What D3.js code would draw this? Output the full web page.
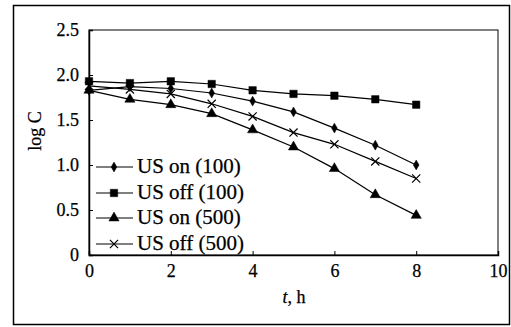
<!DOCTYPE html>
<html><head><meta charset="utf-8">
<script src="https://cdn.jsdelivr.net/npm/d3@7"></script>
<style>body{margin:0;background:#fff}svg{display:block}svg text{font-family:"Liberation Serif","DejaVu Serif",serif !important;fill:#000;stroke:#000;stroke-width:0.25px}</style>
</head><body><svg id="c" width="511" height="327"></svg>
<script>
const hours = [0,1,2,3,4,5,6,7,8];
const usOn100  = [1.83,1.87,1.85,1.80,1.71,1.59,1.41,1.22,1.00];
const usOff100 = [1.93,1.91,1.93,1.90,1.83,1.79,1.77,1.73,1.67];
const usOn500  = [1.83,1.73,1.67,1.57,1.39,1.20,0.96,0.67,0.44];
const usOff500 = [1.88,1.84,1.79,1.68,1.54,1.36,1.23,1.04,0.85];
const seriesNames = ["US on (100)","US off (100)","US on (500)","US off (500)"];
const xTicks = [0,2,4,6,8,10];
const yTicks = [0,0.5,1.0,1.5,2.0,2.5];
const yTickLabels = ["0","0.5","1.0","1.5","2.0","2.5"];

const series = [
  {name: seriesNames[0], values: usOn100, sym: d3.symbolDiamond, size: 28},
  {name: seriesNames[1], values: usOff100, sym: d3.symbolSquare, size: 55},
  {name: seriesNames[2], values: usOn500, sym: d3.symbolTriangle, size: 45},
  {name: seriesNames[3], values: usOff500, sym: d3.symbolX, size: 45}
];

const SERIF = '"Liberation Serif","DejaVu Serif",serif';
const svg = d3.select("#c");
const L = 89, R = 498, T = 30, B = 255;
const x = d3.scaleLinear().domain([0,10]).range([L,R]);
const y = d3.scaleLinear().domain([0,2.5]).range([B,T]);

// outer frame
svg.append("rect").attr("x",13.5).attr("y",5.5).attr("width",496).attr("height",319)
  .attr("fill","none").attr("stroke","#000").attr("stroke-width",1.5);

// plot box
svg.append("rect").attr("x",L).attr("y",T).attr("width",R-L).attr("height",B-T)
  .attr("fill","none").attr("stroke","#000").attr("stroke-width",1);

// axes
const xAxis = d3.axisBottom(x).tickValues(xTicks).tickSize(-4).tickPadding(8).tickFormat(d3.format("d"));
const gx = svg.append("g").attr("transform",`translate(0,${B})`).call(xAxis).attr("font-family",SERIF);
gx.select(".domain").attr("stroke-width",1.5);
gx.selectAll("text").style("font-size","18px").attr("dy","0.8em");
const yAxis = d3.axisLeft(y).tickValues(yTicks).tickSize(-4).tickPadding(10).tickFormat((d,i)=>yTickLabels[i]);
const gy = svg.append("g").attr("transform",`translate(${L},0)`).call(yAxis).attr("font-family",SERIF);
gy.select(".domain").attr("stroke-width",1.5);
gy.selectAll("text").style("font-size","18px");

// axis titles
const xt = svg.append("text").attr("x",294).attr("y",303).attr("text-anchor","middle").style("font-size","18px");
xt.append("tspan").attr("font-style","italic").text("t");
xt.append("tspan").text(", h");
svg.append("text").attr("transform","translate(41,131) rotate(-90)").attr("text-anchor","middle")
  .style("font-size","18px").text("log C");

// lines & markers
const line = d3.line().x((d,i)=>x(hours[i])).y(d=>y(d));
series.forEach(s=>{
  svg.append("path").datum(s.values).attr("d",line).attr("fill","none").attr("stroke","#000").attr("stroke-width",1.2);
  svg.selectAll(null).data(s.values).enter().append("path")
    .attr("transform",(d,i)=>`translate(${x(hours[i])},${y(d)})`)
    .attr("d",d3.symbol().type(s.sym).size(s.size))
    .attr("fill","#000").attr("stroke","#000").attr("stroke-width", s.sym===d3.symbolX?1.2:0.5);
});

// legend
const legY = [167,193,218,244];
series.forEach((s,i)=>{
  const g = svg.append("g").attr("transform",`translate(0,${legY[i]})`);
  g.append("line").attr("x1",96).attr("x2",133).attr("y1",0).attr("y2",0).attr("stroke","#000").attr("stroke-width",1.2);
  g.append("path").attr("transform","translate(114,0)").attr("d",d3.symbol().type(s.sym).size(s.size))
    .attr("fill","#000").attr("stroke","#000").attr("stroke-width", s.sym===d3.symbolX?1.2:0.5);
  g.append("text").attr("x",137).attr("y",6).style("font-size","21px").text(s.name);
});
</script></body></html>
